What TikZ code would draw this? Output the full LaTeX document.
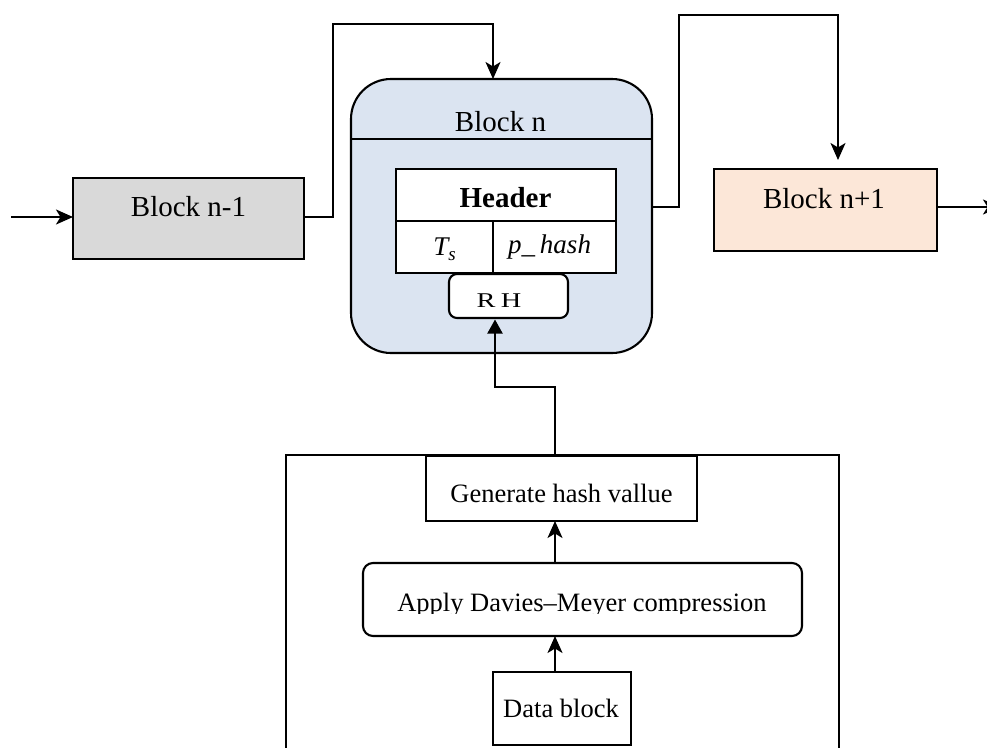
\documentclass[tikz,border=0pt]{standalone}
\usepackage{fontspec}
\usepackage{graphicx}
\setmainfont{Liberation Serif}
\usetikzlibrary{arrows.meta,calc}

\definecolor{prevgray}{HTML}{D9D9D9}
\definecolor{curblue}{HTML}{DBE4F1}
\definecolor{nextpeach}{HTML}{FCE7D8}

\newcommand{\fsz}[1]{\fontsize{#1}{#1}\selectfont}

\tikzset{
  box/.style={draw, line width=2.1pt, inner sep=0pt, outer sep=0pt},
  link/.style={draw, line width=2pt, -{Stealth[length=17pt,width=15pt,inset=4.5pt]}},
  uplink/.style={draw, line width=2pt, -{Triangle[length=14pt,width=15pt]}},
  wire/.style={draw, line width=2pt},
  lbl/.style={anchor=base, inner sep=0pt},
}

\begin{document}
\begin{tikzpicture}[x=1pt, y=-1pt]
\useasboundingbox (0,0) rectangle (987,747);

% chain of blocks
\node[box, fill=prevgray, minimum width=231pt, minimum height=81pt] (bnm1) at (188.5,218.5) {};
\node[box, fill=curblue, rounded corners=40pt, minimum width=301pt, minimum height=274pt] (bn) at (501.5,216) {};
\node[box, fill=nextpeach, minimum width=223pt, minimum height=82pt] (bnp1) at (825.5,210) {};

\draw[line width=2.1pt] (bn.west |- 0,139) -- (bn.east |- 0,139);

% header table inside block n
\node[box, fill=white, minimum width=220pt, minimum height=52pt] (hdr) at (506,195) {};
\node[box, fill=white, minimum width=97pt, minimum height=52pt] (ts) at (444.5,247) {};
\node[box, fill=white, minimum width=123pt, minimum height=52pt] (ph) at (554.5,247) {};
\node[box, fill=white, rounded corners=8pt, minimum width=119pt, minimum height=44pt] (rh) at (508.5,296) {};

% labels
\node[lbl] at (188.5,216) {\fsz{29}Block n-1};
\node[lbl] at (500.5,131) {\fsz{29}Block n};
\node[lbl] at (824,208) {\fsz{29}Block n+1};
\node[lbl] at (505.5,207) {\fsz{29}\bfseries Header};
\node[lbl] at (444.5,255) {\fsz{27}\itshape T\raisebox{-5pt}{\fsz{19}s}};
\node[lbl] at (549.5,253) {\fsz{27}\itshape p\_\kern5pt hash};
\node[lbl] at (499,307) {\scalebox{1.35}[1]{\fsz{21}R\kern4pt H}};

% hashing stage
\coordinate (ocl) at (286,752);
\coordinate (ocr) at (839,752);
\coordinate (gtop) at (555,455);
\draw[wire] (ocl) |- (ocr |- gtop) -- (ocr);

\node[box, fill=white, minimum width=271pt, minimum height=65pt] (gen) at (561.5,488.5) {};
\node[box, fill=white, rounded corners=10pt, minimum width=439pt, minimum height=73pt] (apply) at (582.5,599.5) {};
\node[box, fill=white, minimum width=138pt, minimum height=73pt] (data) at (562,708.5) {};

\node[lbl] at (561.5,502) {\fsz{26.5}Generate hash vallue};
\begin{scope}
  \clip (363,563) rectangle (802,613);
  \node[lbl] at (582,611) {\fsz{26.5}Apply Davies–Meyer compression};
\end{scope}
\node[lbl] at (561,717) {\fsz{26.5}Data block};

% connectors
\coordinate (inl) at (11,217);
\coordinate (c1) at (333,24);
\coordinate (c2) at (679,15);
\coordinate (c3) at (495,387);
\coordinate (outr) at (1000,207);

\draw[link] (inl) -- (bnm1.west |- inl);
\draw[link] ([yshift=2pt]bnm1.east) -| (c1) -| ([xshift=-8.5pt]bn.north);
\draw[link, shorten >=9pt] ([yshift=9pt]bn.east) -| (c2) -| ([xshift=12.5pt]bnp1.north);
\draw[link] ([yshift=3pt]bnp1.east) -- (outr);
\draw[uplink, shorten >=1.5pt] (gtop) |- (c3) -- (c3 |- rh.south);
\draw[link] (apply.north -| gtop) -- (gen.south -| gtop);
\draw[link] (data.north -| gtop) -- (apply.south -| gtop);
\end{tikzpicture}
\end{document}
